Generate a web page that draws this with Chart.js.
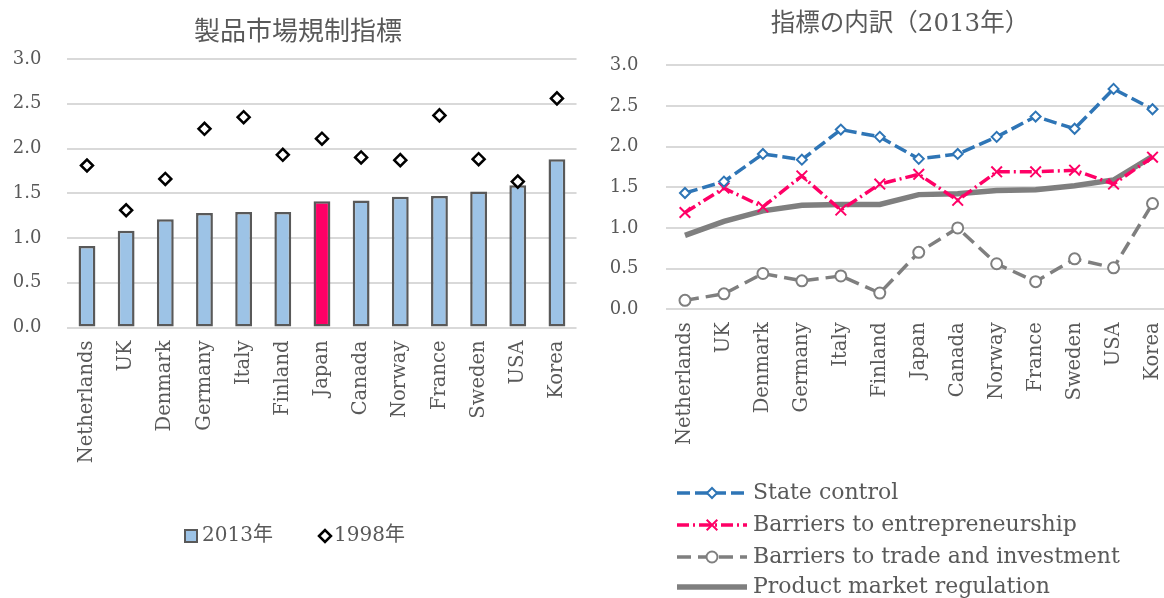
<!DOCTYPE html>
<html>
<head>
<meta charset="utf-8">
<script src="https://cdn.jsdelivr.net/npm/chart.js@4.4.0/dist/chart.umd.min.js"></script>
<style>
    html, body { margin: 0; padding: 0; background: #fff; overflow: hidden; }
    #wrap { position: relative; width: 1164px; height: 598px; overflow: hidden; }
    #leftBox { position: absolute; left: 0; top: 0; }
    #rightBox { position: absolute; left: 600px; top: 0; }
</style>
</head>
<body>
<div id="wrap">
    <div id="leftBox"><canvas id="pmrChart" width="594" height="598"></canvas></div>
    <div id="rightBox"><canvas id="breakdownChart" width="600" height="598"></canvas></div>
</div>
<script>
const countries = ['Netherlands', 'UK', 'Denmark', 'Germany', 'Italy', 'Finland', 'Japan',
    'Canada', 'Norway', 'France', 'Sweden', 'USA', 'Korea'];
const highlight = 'Japan';

const pmr2013 = [0.91, 1.08, 1.21, 1.28, 1.29, 1.29, 1.41, 1.42, 1.46, 1.47, 1.52, 1.59, 1.88];
const pmr1998 = [1.81, 1.31, 1.66, 2.22, 2.35, 1.93, 2.11, 1.90, 1.87, 2.37, 1.88, 1.63, 2.56];

const stateControl = [1.43, 1.57, 1.91, 1.84, 2.21, 2.12, 1.85, 1.91, 2.12, 2.37, 2.22, 2.71, 2.46];
const entryBarriers = [1.19, 1.49, 1.26, 1.64, 1.22, 1.54, 1.66, 1.34, 1.69, 1.69, 1.71, 1.54, 1.87];
const tradeBarriers = [0.11, 0.19, 0.44, 0.35, 0.41, 0.20, 0.70, 1.00, 0.56, 0.34, 0.62, 0.51, 1.30];

const yMin = 0;
const yMax = 3;
const yStep = 0.5;

const TEXT = '#595959';
const GRID = '#d9d9d9';
const SERIF = '"DejaVu Serif", "Noto Sans CJK JP", serif';

function drawMarker(ctx, style, x, y, r, stroke, fill, lw) {
    ctx.save();
    ctx.setLineDash([]);
    ctx.lineWidth = lw;
    ctx.strokeStyle = stroke;
    ctx.fillStyle = fill;
    ctx.beginPath();
    if (style === 'rectRot') {
        ctx.moveTo(x - r, y);
        ctx.lineTo(x, y - r);
        ctx.lineTo(x + r, y);
        ctx.lineTo(x, y + r);
        ctx.closePath();
        ctx.fill();
        ctx.stroke();
    } else if (style === 'circle') {
        ctx.arc(x, y, r, 0, Math.PI * 2);
        ctx.fill();
        ctx.stroke();
    } else if (style === 'crossRot') {
        const d = r * Math.SQRT1_2;
        ctx.moveTo(x - d, y - d);
        ctx.lineTo(x + d, y + d);
        ctx.moveTo(x + d, y - d);
        ctx.lineTo(x - d, y + d);
        ctx.stroke();
    } else if (style === 'rect') {
        ctx.rect(x - r, y - r, 2 * r, 2 * r);
        ctx.fill();
        ctx.stroke();
    }
    ctx.restore();
}

// title + legend drawn at fixed spots, styles taken from the datasets
const annotate = {
    id: 'annotate',
    afterDraw(chart, args, opts) {
        const ctx = chart.ctx;
        ctx.save();
        ctx.fillStyle = TEXT;
        ctx.font = opts.titleFont;
        ctx.textAlign = 'center';
        ctx.textBaseline = 'middle';
        ctx.fillText(opts.title, opts.titleX, opts.titleY);

        ctx.font = opts.legendFont;
        ctx.textAlign = 'left';
        opts.items.forEach(item => {
            const ds = chart.data.datasets[item.index];
            const fill = Array.isArray(ds.backgroundColor) ? ds.backgroundColor[0] : ds.backgroundColor;
            if (item.line) {
                ctx.save();
                ctx.strokeStyle = ds.borderColor;
                ctx.lineWidth = ds.borderWidth;
                ctx.setLineDash(ds.borderDash || []);
                ctx.beginPath();
                ctx.moveTo(item.x, item.y);
                ctx.lineTo(item.x + item.line, item.y);
                ctx.stroke();
                ctx.restore();
                if (ds.pointRadius > 0) {
                    drawMarker(ctx, ds.pointStyle, item.x + item.line / 2, item.y, ds.pointRadius,
                        ds.pointBorderColor, ds.pointBackgroundColor, ds.pointBorderWidth);
                }
            } else if (ds.type === 'bar') {
                drawMarker(ctx, 'rect', item.x, item.y, item.r, ds.borderColor, fill, 2);
            } else {
                drawMarker(ctx, ds.pointStyle, item.x, item.y, item.r,
                    ds.pointBorderColor, ds.pointBackgroundColor, ds.pointBorderWidth);
            }
            ctx.fillStyle = TEXT;
            ctx.fillText(ds.label, item.textX, item.y);
        });
        ctx.restore();
    }
};

function yAxis(width, padding) {
    return {
        min: yMin,
        max: yMax,
        ticks: {
            stepSize: yStep,
            color: TEXT,
            padding: padding,
            font: { family: SERIF, size: 18 },
            callback: v => v.toFixed(1)
        },
        grid: { color: GRID, lineWidth: 2, drawTicks: false },
        border: { display: false },
        afterFit: s => { s.width = width; }
    };
}

function xAxis(height) {
    return {
        offset: true,
        ticks: {
            color: TEXT,
            padding: 13,
            minRotation: 90,
            maxRotation: 90,
            autoSkip: false,
            font: { family: SERIF, size: 19.5 }
        },
        grid: { display: false, drawTicks: false },
        border: { display: false },
        afterFit: s => { s.height = height; }
    };
}

new Chart(document.getElementById('pmrChart'), {
    type: 'bar',
    data: {
        labels: countries,
        datasets: [{
            type: 'bar',
            label: '2013年',
            data: pmr2013,
            backgroundColor: countries.map(c => c === highlight ? '#ff0066' : '#9dc3e6'),
            borderColor: '#595959',
            borderWidth: 2.5,
            borderSkipped: false,
            barPercentage: 0.43,
            categoryPercentage: 1,
            order: 2
        }, {
            type: 'line',
            label: '1998年',
            data: pmr1998,
            showLine: false,
            pointStyle: 'rectRot',
            pointRadius: 6,
            pointBorderWidth: 2.5,
            pointBorderColor: '#000000',
            pointBackgroundColor: '#ffffff',
            order: 1
        }]
    },
    options: {
        responsive: false,
        animation: false,
        layout: { padding: { top: 59, right: 17, left: 0, bottom: 0 } },
        plugins: {
            legend: { display: false },
            tooltip: { enabled: false },
            annotate: {
                title: '製品市場規制指標',
                titleX: 298,
                titleY: 30,
                titleFont: '26px "Noto Sans CJK JP", sans-serif',
                legendFont: '20px ' + SERIF,
                items: [
                    { index: 0, x: 191, y: 536, r: 6, textX: 202 },
                    { index: 1, x: 325, y: 536, r: 6, textX: 334 }
                ]
            }
        },
        scales: {
            x: xAxis(270.5),
            y: yAxis(67.4, 26)
        }
    },
    plugins: [annotate]
});

new Chart(document.getElementById('breakdownChart'), {
    type: 'line',
    data: {
        labels: countries,
        datasets: [{
            label: 'State control',
            data: stateControl,
            borderColor: '#2e75b6',
            borderWidth: 3.5,
            borderDash: [13, 5],
            pointStyle: 'rectRot',
            pointRadius: 5,
            pointBorderWidth: 2,
            pointBorderColor: '#2e75b6',
            pointBackgroundColor: '#ffffff'
        }, {
            label: 'Barriers to entrepreneurship',
            data: entryBarriers,
            borderColor: '#ff0066',
            borderWidth: 3.5,
            borderDash: [12, 4, 2, 4],
            pointStyle: 'crossRot',
            pointRadius: 7.5,
            pointBorderWidth: 2,
            pointBorderColor: '#ff0066',
            pointBackgroundColor: '#ff0066'
        }, {
            label: 'Barriers to trade and investment',
            data: tradeBarriers,
            borderColor: '#7f7f7f',
            borderWidth: 3.5,
            borderDash: [14, 7],
            pointStyle: 'circle',
            pointRadius: 5.5,
            pointBorderWidth: 2,
            pointBorderColor: '#7f7f7f',
            pointBackgroundColor: '#ffffff'
        }, {
            label: 'Product market regulation',
            data: pmr2013,
            borderColor: '#7f7f7f',
            borderWidth: 5.5,
            pointRadius: 0
        }]
    },
    options: {
        responsive: false,
        animation: false,
        layout: { padding: { top: 65.3, right: 28, left: 0, bottom: 0 } },
        plugins: {
            legend: { display: false },
            tooltip: { enabled: false },
            annotate: {
                title: '指標の内訳（2013年）',
                titleX: 300,
                titleY: 25,
                titleFont: '24.5px ' + SERIF,
                legendFont: '22px ' + SERIF,
                items: [
                    { index: 0, x: 77, y: 493, line: 70, textX: 153 },
                    { index: 1, x: 77, y: 525, line: 70, textX: 153 },
                    { index: 2, x: 77, y: 557, line: 70, textX: 153 },
                    { index: 3, x: 77, y: 587, line: 70, textX: 153 }
                ]
            }
        },
        scales: {
            x: xAxis(288.7),
            y: yAxis(65.5, 27)
        }
    },
    plugins: [annotate]
});
</script>
</body>
</html>
